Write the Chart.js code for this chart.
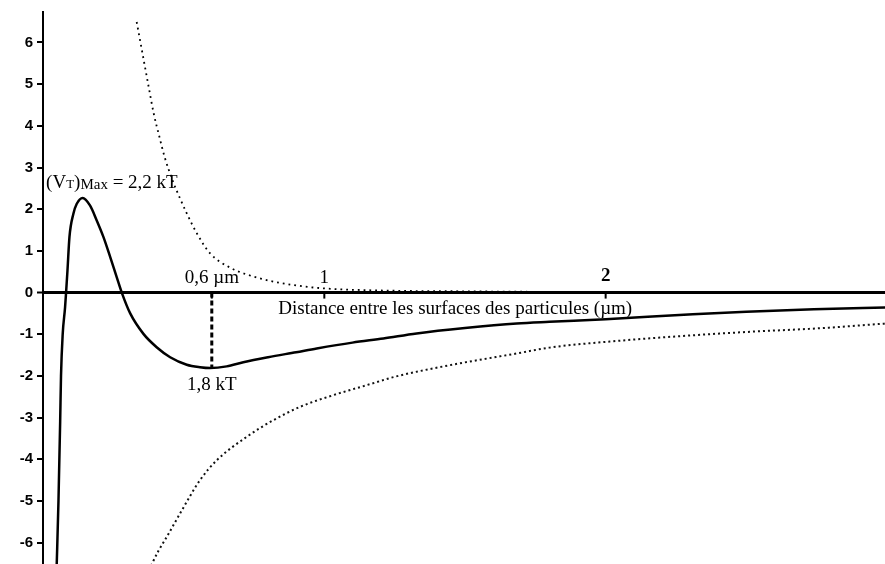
<!DOCTYPE html>
<html>
<head>
<meta charset="utf-8">
<script src="https://cdn.jsdelivr.net/npm/chart.js@4.4.0/dist/chart.umd.min.js"></script>
<style>
  body { margin: 0; background: #fff; }
  canvas { display: block; }
</style>
</head>
<body>
<canvas id="chart" width="885" height="564"></canvas>
<script>
// distance between particle surfaces (um) -> potential energy (kT)
// total potential V_T (solid)
const totalX = [0.048, 0.055, 0.061, 0.064, 0.070, 0.0785, 0.082, 0.087, 0.094, 0.108, 0.120, 0.141, 0.167, 0.191, 0.215, 0.239, 0.262, 0.280, 0.310, 0.357, 0.404, 0.452, 0.511, 0.558, 0.594, 0.653, 0.712, 0.80, 0.90, 0.973, 1.10, 1.21, 1.328, 1.50, 1.684, 1.80, 2.00, 2.15, 2.31, 2.50, 2.74, 3.00];
const totalY = [-6.7, -5.0, -3.1, -2.0, -1.0, -0.35, 0, 0.53, 1.33, 1.89, 2.13, 2.27, 2.09, 1.73, 1.33, 0.85, 0.37, 0, -0.5, -0.99, -1.31, -1.55, -1.73, -1.79, -1.81, -1.77, -1.67, -1.55, -1.43, -1.34, -1.20, -1.10, -0.98, -0.85, -0.74, -0.70, -0.64, -0.58, -0.52, -0.46, -0.40, -0.355];

// repulsion (upper dotted)
const repulsionX = [0.333, 0.356, 0.376, 0.394, 0.414, 0.432, 0.46, 0.487, 0.511, 0.547, 0.594, 0.665, 0.783, 0.902, 1.0, 1.2, 1.5, 2.0, 3.0];
const repulsionY = [6.49, 5.65, 4.92, 4.28, 3.73, 3.26, 2.70, 2.26, 1.90, 1.42, 0.94, 0.60, 0.32, 0.17, 0.10, 0.05, 0.03, 0.01, 0];

// attraction (lower dotted)
const attractionX = [0.384, 0.410, 0.440, 0.487, 0.558, 0.618, 0.724, 0.819, 0.914, 1.032, 1.151, 1.25, 1.447, 1.684, 1.80, 2.04, 2.276, 2.513, 2.75, 3.0];
const attractionY = [-6.55, -6.20, -5.86, -5.30, -4.50, -4.02, -3.46, -3.06, -2.74, -2.46, -2.22, -2.02, -1.74, -1.46, -1.32, -1.16, -1.04, -0.94, -0.86, -0.74];

// secondary minimum marker
const minimumX = [0.6, 0.6];
const minimumY = [0, -1.8];

const yTicks = [-6, -5, -4, -3, -2, -1, 0, 1, 2, 3, 4, 5, 6];
const xTickValues = [0.6, 1, 2];
const xTickLabels = ['0,6 \u00b5m', '1', '2'];
const xTitle = 'Distance entre les surfaces des particules (\u00b5m)';
const maxLabel = ['(V', 'T', ')', 'Max', ' = 2,2 kT'];
const minLabel = '1,8 kT';

const toPoints = (xs, ys) => xs.map((x, i) => ({x: x, y: ys[i]}));

const serif = '"Liberation Serif", "Times New Roman", serif';

const annotations = {
    id: 'annotations',
    afterDraw(chart) {
        const ctx = chart.ctx;
        const x = chart.scales.x;
        const y = chart.scales.y;
        const y0 = y.getPixelForValue(0);
        ctx.save();
        ctx.fillStyle = '#000';
        ctx.strokeStyle = '#000';
        ctx.textBaseline = 'alphabetic';

        // x ticks sit on the zero line, labels above it
        ctx.lineWidth = 2;
        ctx.textAlign = 'center';
        xTickValues.forEach((v, i) => {
            const px = x.getPixelForValue(v);
            ctx.beginPath();
            ctx.moveTo(px, y0);
            ctx.lineTo(px, y0 + 6);
            ctx.stroke();
            ctx.font = (i === 2 ? 'bold ' : '') + '19px ' + serif;
            ctx.fillText(xTickLabels[i], px, y0 - (i === 2 ? 12 : 10));
        });

        // axis title under the zero line
        ctx.textAlign = 'left';
        ctx.font = '19px ' + serif;
        ctx.fillText(xTitle, x.getPixelForValue(0.8365), y0 + 21);

        // (VT)Max label
        let px = x.getPixelForValue(0.011);
        const base = y.getPixelForValue(2.5);
        const fonts = ['19px ', '13px ', '19px ', '15px ', '19px '];
        maxLabel.forEach((s, i) => {
            ctx.font = fonts[i] + serif;
            ctx.fillText(s, px, base + (i === 3 ? 1 : 0));
            px += ctx.measureText(s).width;
        });

        // 1,8 kT under the minimum
        ctx.textAlign = 'center';
        ctx.font = '19px ' + serif;
        ctx.fillText(minLabel, x.getPixelForValue(0.6), y.getPixelForValue(-1.8) + 22);
        ctx.restore();
    }
};

new Chart(document.getElementById('chart'), {
    type: 'scatter',
    data: {
        datasets: [
            {
                label: 'VT',
                data: toPoints(totalX, totalY),
                showLine: true,
                borderColor: '#000',
                borderWidth: 2.5,
                pointRadius: 0,
                cubicInterpolationMode: 'monotone'
            },
            {
                label: 'VR',
                data: toPoints(repulsionX, repulsionY),
                showLine: true,
                borderColor: '#000',
                borderWidth: 1.8,
                borderDash: [1.8, 4],
                pointRadius: 0,
                cubicInterpolationMode: 'monotone'
            },
            {
                label: 'VA',
                data: toPoints(attractionX, attractionY),
                showLine: true,
                borderColor: '#111',
                borderWidth: 2,
                borderDash: [2, 3],
                pointRadius: 0,
                cubicInterpolationMode: 'monotone'
            },
            {
                label: 'min',
                data: toPoints(minimumX, minimumY),
                showLine: true,
                borderColor: '#000',
                borderWidth: 3,
                borderDash: [5, 3],
                pointRadius: 0
            }
        ]
    },
    options: {
        responsive: false,
        animation: false,
        events: [],
        layout: {padding: {top: 12, left: 0, right: 0, bottom: 0}},
        scales: {
            x: {
                type: 'linear',
                min: 0,
                max: 2.993,
                display: false
            },
            y: {
                type: 'linear',
                min: -6.51,
                max: 6.73,
                afterFit: (scale) => {
                    scale.width = 43;
                    scale.paddingTop = 0;
                    scale.paddingBottom = 0;
                },
                afterBuildTicks: (scale) => { scale.ticks = yTicks.map(v => ({value: v})); },
                border: {display: true, color: '#000', width: 2},
                grid: {
                    color: '#000',
                    // only the zero line is drawn across the plot
                    lineWidth: (c) => (c.tick && c.tick.value === 0 ? 3 : 0),
                    drawTicks: true,
                    tickLength: 6,
                    tickWidth: 2,
                    tickColor: '#000'
                },
                ticks: {
                    color: '#000',
                    padding: 4,
                    font: {family: '"Liberation Sans", Arial, sans-serif', size: 15, weight: 'bold'},
                    callback: (v) => String(v)
                }
            }
        },
        plugins: {
            legend: {display: false},
            tooltip: {enabled: false}
        }
    },
    plugins: [annotations]
});
</script>
</body>
</html>
